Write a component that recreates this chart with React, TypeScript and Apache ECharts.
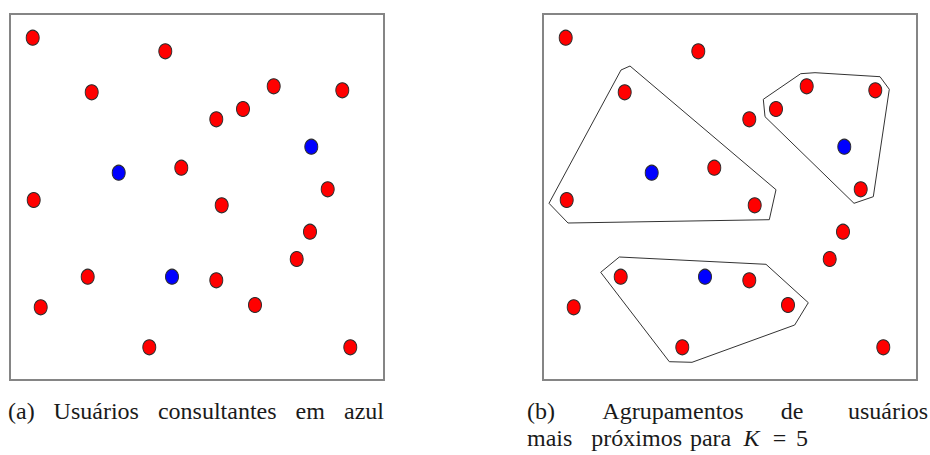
import React, { useEffect, useRef } from "react";
import * as echarts from "echarts";

// Panel coordinates: x to the right, y downward, measured from each box's top-left corner.
const redX = [22.7, 155.3, 81.7, 263.7, 332.3, 233, 206.3, 171.3, 317.7, 23.7, 211.7, 300, 286.7, 77.7, 206.3, 30.7, 245, 139.3, 340.3];
const redY = [23.7, 37.3, 78.3, 72.3, 76.3, 95, 105.3, 153.7, 175.3, 186, 191.3, 217.7, 245, 262.7, 266.3, 293.3, 291, 333.3, 333.3];
const blueX = [301.3, 108.7, 162];
const blueY = [132.7, 158.7, 262.7];

// Hulls of the K = 5 nearest-user groups around each query user
const groupA: number[][] = [[78, 56], [87, 52], [233, 175.7], [226.3, 205.7], [25, 209], [6, 189.3]];
const groupB: number[][] = [[220.3, 85.3], [257.7, 59.7], [272, 58.7], [337, 62.7], [346.3, 75.3], [330.3, 182.7], [311, 189.3], [222, 102.7]];
const groupC: number[][] = [[57.7, 258.3], [76.3, 243], [223, 250.3], [265.3, 288.7], [251.7, 311], [149, 348.3], [126.3, 347.7]];

const BOX_W = 374;
const BOX_H = 366;

// Caption words, set one by one so the justified spacing is kept
const captionA = ["(a)", "Usuários", "consultantes", "em", "azul"];
const captionB1 = ["(b)", "Agrupamentos", "de", "usuários"];
const captionB2 = ["mais", "próximos", "para", "K", "=", "5"];

type Anchor = "left" | "center" | "right";

export default function App() {
  const ref = useRef<HTMLDivElement>(null);

  useEffect(() => {
    if (!ref.current) return;
    const chart = echarts.init(ref.current, undefined, { renderer: "svg" });

    const red = redX.map((x, i) => [x, redY[i]]);
    const blue = blueX.map((x, i) => [x, blueY[i]]);
    const close = (g: number[][]) => [...g, g[0]];

    const grids = [
      { left: 10, top: 14, width: BOX_W, height: BOX_H },
      { left: 543, top: 14, width: BOX_W, height: BOX_H },
    ].map((g) => ({ ...g, show: true, borderColor: "#858585", borderWidth: 2, backgroundColor: "#fff" }));

    const xAxes = [0, 1].map((i) => ({ type: "value", gridIndex: i, min: 0, max: BOX_W, show: false }));
    const yAxes = [0, 1].map((i) => ({ type: "value", gridIndex: i, min: 0, max: BOX_H, inverse: true, show: false }));

    const dots = (data: number[][], color: string, idx: number) => ({
      type: "scatter",
      xAxisIndex: idx,
      yAxisIndex: idx,
      data,
      symbol: "circle",
      symbolSize: [13, 15],
      itemStyle: { color, borderColor: "#2a2a2a", borderWidth: 1, opacity: 1 },
      z: 5,
      silent: true,
    });

    const hull = (g: number[][]) => ({
      type: "line",
      xAxisIndex: 1,
      yAxisIndex: 1,
      data: close(g),
      symbol: "none",
      lineStyle: { color: "#333", width: 1 },
      z: 3,
      silent: true,
    });

    // One caption word anchored at x by its left edge, centre or right edge
    const word = (text: string, x: number, y: number, anchor: Anchor, italic = false) => ({
      text,
      ...(anchor === "right" ? { right: 930 - x } : { left: x }),
      textAlign: anchor === "center" ? "center" : "left",
      top: y,
      padding: 0,
      itemGap: 0,
      textStyle: {
        color: "#1a1a1a",
        fontFamily: "'Liberation Serif', 'DejaVu Serif', serif",
        fontSize: 24,
        lineHeight: 22,
        fontWeight: "normal",
        fontStyle: italic ? "italic" : "normal",
      },
    });

    const posA = [8, 53.6, 157.9, 295.6, 384];
    const anchA: Anchor[] = ["left", "left", "left", "left", "right"];
    const posB1 = [527, 673, 792, 928];
    const anchB1: Anchor[] = ["left", "center", "center", "right"];
    const posB2 = [527, 636.7, 710.6, 751.4, 779.5, 808];
    const anchB2: Anchor[] = ["left", "center", "center", "center", "center", "right"];
    const topA = 400;
    const topB2 = 427;

    chart.setOption({
      animation: false,
      title: [
        ...captionA.map((w, i) => word(w, posA[i], topA, anchA[i])),
        ...captionB1.map((w, i) => word(w, posB1[i], topA, anchB1[i])),
        ...captionB2.map((w, i) => word(w, posB2[i], topB2, anchB2[i], w === "K")),
      ],
      grid: grids,
      xAxis: xAxes,
      yAxis: yAxes,
      series: [
        dots(red, "#ff0000", 0),
        dots(blue, "#0000ff", 0),
        dots(red, "#ff0000", 1),
        dots(blue, "#0000ff", 1),
        hull(groupA),
        hull(groupB),
        hull(groupC),
      ],
    });

    return () => chart.dispose();
  }, []);

  return (
    <div
      ref={ref}
      style={{ position: "fixed", left: 0, top: 0, width: 930, height: 455, background: "#fff" }}
    />
  );
}
